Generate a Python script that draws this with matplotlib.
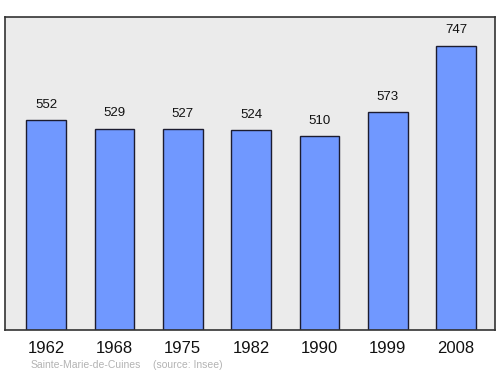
import matplotlib.pyplot as plt

years = ["1962", "1968", "1975", "1982", "1990", "1999", "2008"]
population = [552, 529, 527, 524, 510, 573, 747]
commune = "Sainte-Marie-de-Cuines"
source = "(source: Insee)"

plt.rcParams["font.family"] = ["Liberation Sans", "DejaVu Sans"]

fig = plt.figure(figsize=(5, 3.74), dpi=100)
ax = fig.add_axes([5 / 500, 1 - 330 / 374, 490 / 500, 313 / 374])
ax.set_facecolor("#ebebeb")

x = list(range(len(years)))
ax.bar(x, population, width=0.58, color="#7098ff", edgecolor="#1c1c30", linewidth=1, zorder=2)

for xi, v in zip(x, population):
    ax.text(xi, v + 40, str(v), ha="center", va="center", fontsize=9.5, color="#111111")

ax.set_xlim(-0.6, 6.57)
ax.set_ylim(0, 822)
ax.set_yticks([])
ax.set_xticks(x)
ax.set_xticklabels(years, fontsize=12, color="#111111")
ax.tick_params(axis="x", length=0, pad=8)
for s in ax.spines.values():
    s.set_color("#333333")
    s.set_linewidth(1.2)

fig.text(31 / 500, 1 - 365 / 374, commune, fontsize=7.5, color="#b3b3b3", va="center", ha="left")
fig.text(153 / 500, 1 - 365 / 374, source, fontsize=7.5, color="#b3b3b3", va="center", ha="left")

fig.savefig("out.png", dpi=100, facecolor="white")
